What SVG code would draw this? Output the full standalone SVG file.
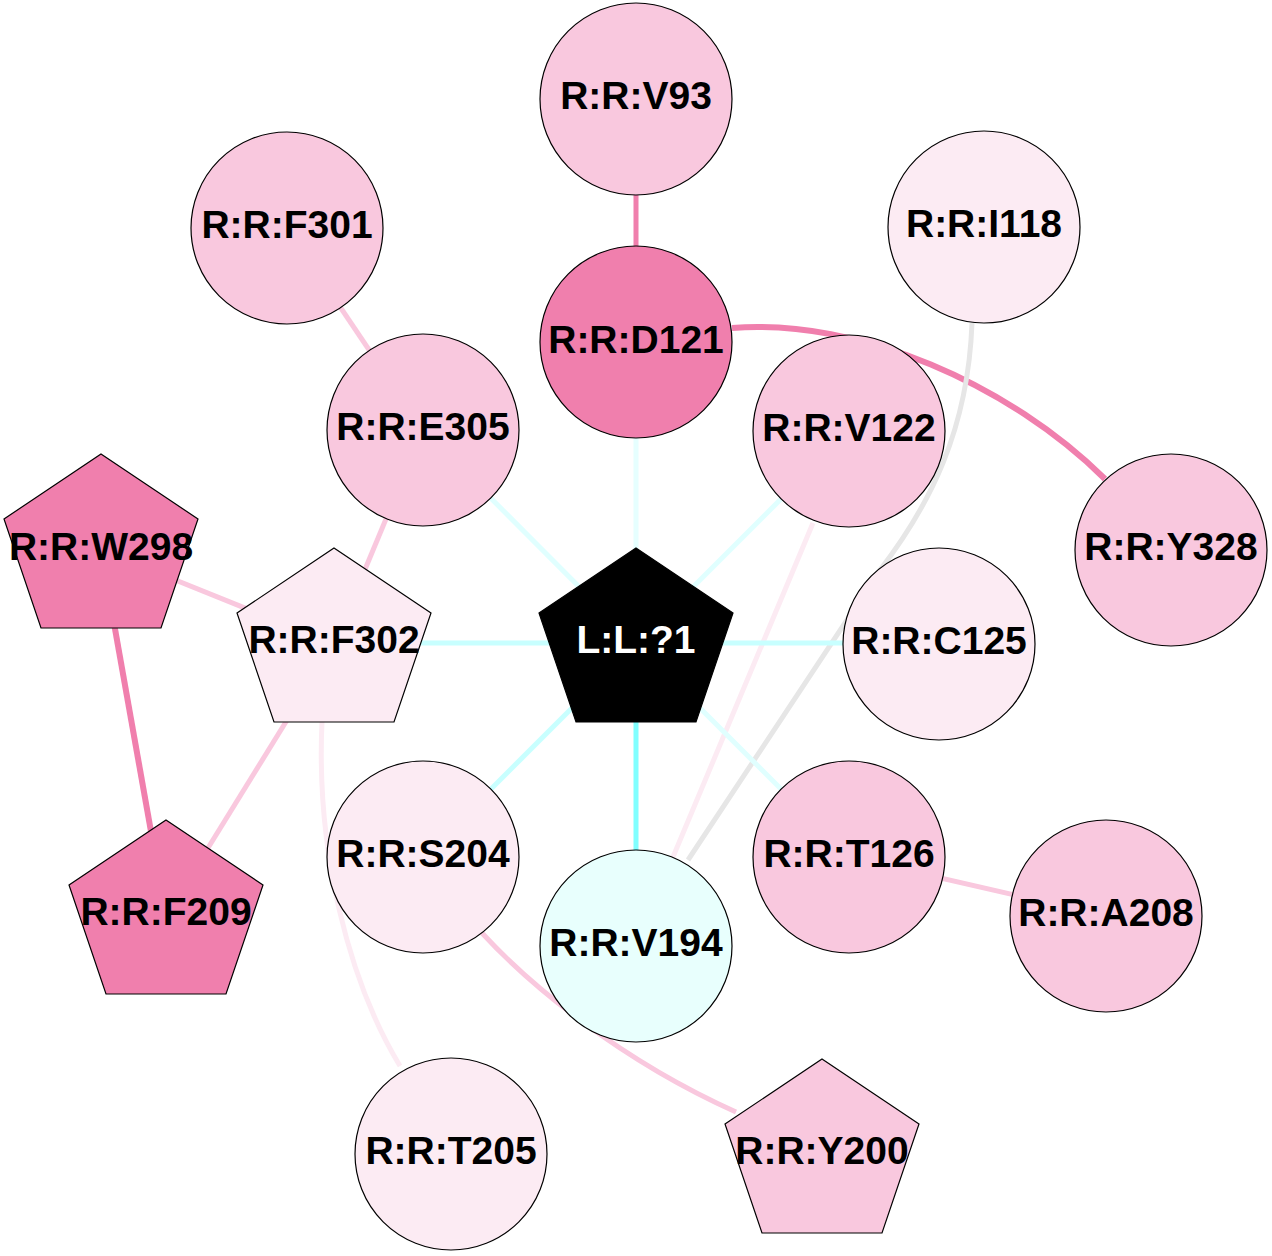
<svg xmlns="http://www.w3.org/2000/svg" width="1272" height="1256" viewBox="0 0 1272 1256">
<style>
.n{stroke:#000;stroke-width:1.2}
.dk{fill:#f07fad}
.lt{fill:#f9c8de}
.vl{fill:#fcebf3}
.cy{fill:#e8fffd}
.lig{fill:#000}
text{font-family:"Liberation Sans",Arial,sans-serif;font-weight:bold;font-size:39px;text-anchor:middle;fill:#000}
text.w{fill:#fff}
.e{fill:none;stroke-width:5}
.t{stroke-width:6}
</style>
<rect width="1272" height="1256" fill="#fff"/>
<g id="edges">
<line class="e" x1="636" y1="99" x2="636" y2="342" stroke="#f07fad"/>
<path class="e t" d="M732,328 C860,318 1010,385 1105,479" stroke="#f07fad"/>
<line class="e" x1="287" y1="228" x2="423" y2="430" stroke="#f9c8de"/>
<line class="e" x1="423" y1="430" x2="334" y2="644" stroke="#f9c8de"/>
<line class="e" x1="101" y1="550" x2="334" y2="644" stroke="#f9c8de"/>
<line class="e t" x1="101" y1="550" x2="166" y2="916" stroke="#f07fad"/>
<line class="e" x1="334" y1="644" x2="166" y2="916" stroke="#f9c8de"/>
<path class="e" d="M322,722 C316,850 348,980 400,1066" stroke="#fcebf3"/>
<path class="e" d="M482,933 C530,985 620,1060 736,1112" stroke="#f9c8de"/>
<line class="e" x1="849" y1="857" x2="1106" y2="916" stroke="#f9c8de"/>
<line class="e" x1="813" y1="523" x2="673" y2="857" stroke="#fcebf3"/>
<path class="e" d="M972,323 C968,430 930,505 880,570 L688,860" stroke="#e6e6e6"/>
<line class="e" x1="636" y1="644" x2="636" y2="342" stroke="#e6ffff"/>
<line class="e" x1="636" y1="644" x2="423" y2="430" stroke="#e0ffff"/>
<line class="e" x1="636" y1="644" x2="849" y2="431" stroke="#e0ffff"/>
<line class="e" x1="636" y1="643" x2="334" y2="643" stroke="#c8ffff"/>
<line class="e" x1="636" y1="643" x2="939" y2="643" stroke="#c8ffff"/>
<line class="e" x1="636" y1="644" x2="423" y2="857" stroke="#c8ffff"/>
<line class="e" x1="636" y1="644" x2="849" y2="857" stroke="#e0ffff"/>
<line class="e" x1="636" y1="644" x2="636" y2="946" stroke="#80ffff"/>
</g>
<g id="node-V93"><circle class="n lt" cx="636" cy="99" r="96"/><text x="636" y="109">R:R:V93</text></g>
<g id="node-F301"><circle class="n lt" cx="287" cy="228" r="96"/><text x="287" y="238">R:R:F301</text></g>
<g id="node-I118"><circle class="n vl" cx="984" cy="227" r="96"/><text x="984" y="237">R:R:I118</text></g>
<g id="node-D121"><circle class="n dk" cx="636" cy="342" r="96"/><text x="636" y="353">R:R:D121</text></g>
<g id="node-E305"><circle class="n lt" cx="423" cy="430" r="96"/><text x="423" y="440">R:R:E305</text></g>
<g id="node-V122"><circle class="n lt" cx="849" cy="431" r="96"/><text x="849" y="441">R:R:V122</text></g>
<g id="node-Y328"><circle class="n lt" cx="1171" cy="550" r="96"/><text x="1171" y="560">R:R:Y328</text></g>
<g id="node-W298"><polygon class="n dk" points="101,454 198,519 161,628 41,628 4,519"/><text x="101" y="560">R:R:W298</text></g>
<g id="node-F302"><polygon class="n vl" points="334,548 431,613 394,722 274,722 237,613"/><text x="334" y="653">R:R:F302</text></g>
<g id="node-L1"><polygon class="n lig" points="636,548 733,613 696,722 576,722 539,613"/><text class="w" x="636" y="653">L:L:?1</text></g>
<g id="node-C125"><circle class="n vl" cx="939" cy="644" r="96"/><text x="939" y="654">R:R:C125</text></g>
<g id="node-S204"><circle class="n vl" cx="423" cy="857" r="96"/><text x="423" y="867">R:R:S204</text></g>
<g id="node-T126"><circle class="n lt" cx="849" cy="857" r="96"/><text x="849" y="867">R:R:T126</text></g>
<g id="node-V194"><circle class="n cy" cx="636" cy="946" r="96"/><text x="636" y="956">R:R:V194</text></g>
<g id="node-A208"><circle class="n lt" cx="1106" cy="916" r="96"/><text x="1106" y="926">R:R:A208</text></g>
<g id="node-F209"><polygon class="n dk" points="166,820 263,885 226,994 106,994 69,885"/><text x="166" y="925">R:R:F209</text></g>
<g id="node-T205"><circle class="n vl" cx="451" cy="1154" r="96"/><text x="451" y="1164">R:R:T205</text></g>
<g id="node-Y200"><polygon class="n lt" points="822,1059 919,1124 882,1233 762,1233 725,1124"/><text x="822" y="1164">R:R:Y200</text></g>
</svg>
